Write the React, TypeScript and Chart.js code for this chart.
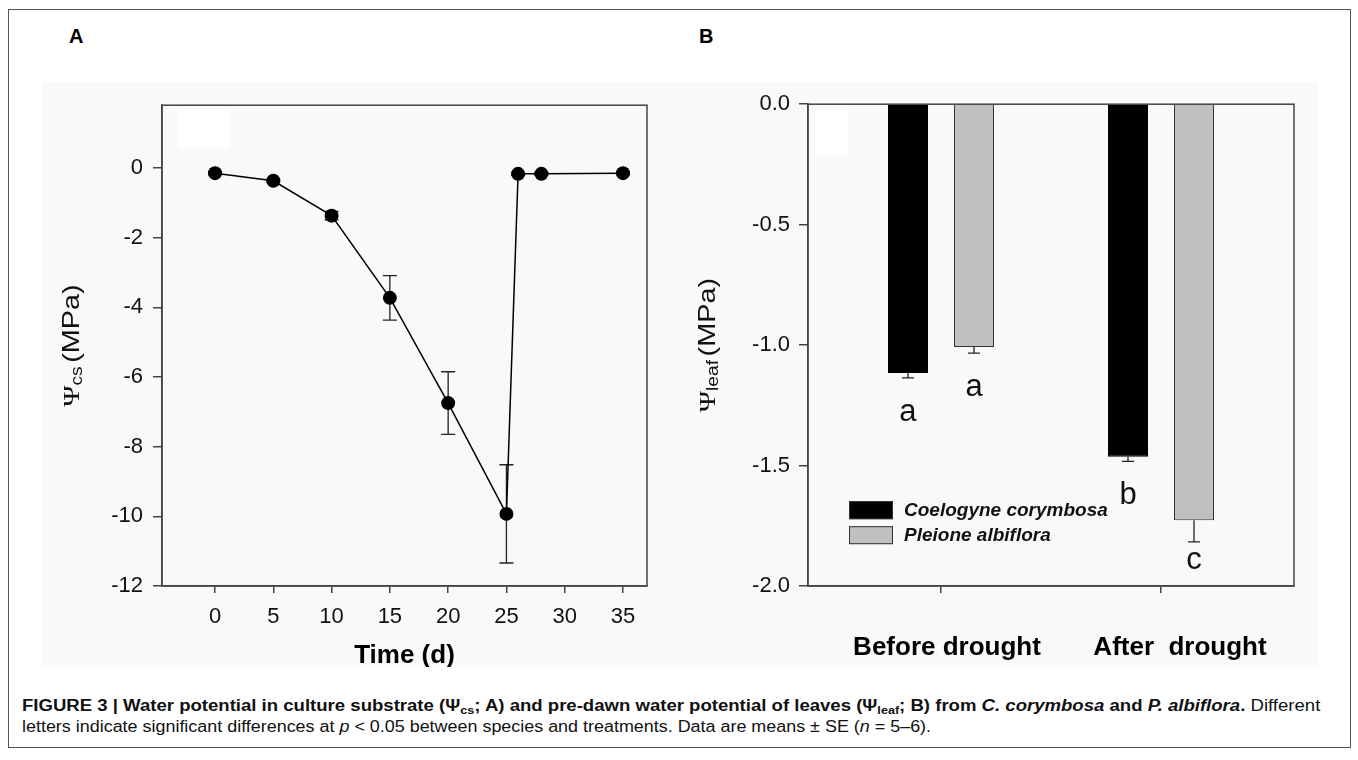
import React, { useEffect, useRef } from 'react';
import { Chart, registerables } from 'chart.js';

Chart.register(...registerables);

// ---------- Panel A data ----------
const days = [0, 5, 10, 15, 20, 25, 26, 28, 35];
const psiCs = [-0.15, -0.37, -1.37, -3.73, -6.75, -9.93, -0.17, -0.17, -0.15];
const psiCsSE = [0.04, 0.04, 0.12, 0.64, 0.9, 1.41, 0.04, 0.04, 0.04];
const xTicksA = [0, 5, 10, 15, 20, 25, 30, 35];
const yTicksA = [0, -2, -4, -6, -8, -10, -12];

// ---------- Panel B data ----------
const categories = ['Before drought', 'After  drought'];
const coelogyne = [-1.116, -1.463];
const coelogyneSE = [0.02, 0.02];
const coelogyneLetters = ['a', 'b'];
const pleione = [-1.008, -1.727];
const pleioneSE = [0.025, 0.09];
const pleioneLetters = ['a', 'c'];
const yTicksB = [0, -0.5, -1.0, -1.5, -2.0];

const FONT = '"Liberation Sans", Arial, Helvetica, sans-serif';
const SERIF = '"Liberation Serif", "Times New Roman", serif';
const AXIS = '#444';

function drawPsiLabel(ctx: CanvasRenderingContext2D, cx: number, cy: number, sub: string) {
  ctx.save();
  ctx.translate(cx, cy);
  ctx.rotate(-Math.PI / 2);
  ctx.scale(1.2, 1);
  const psiF = `24px ${SERIF}`;
  const subF = `16px ${FONT}`;
  const mainF = `24px ${FONT}`;
  ctx.font = psiF;
  const w1 = ctx.measureText('Ψ').width;
  ctx.font = subF;
  const w2 = ctx.measureText(sub).width + 3;
  ctx.font = mainF;
  const w3 = ctx.measureText('(MPa)').width;
  let x = -(w1 + w2 + w3) / 2;
  const base = 8.5;
  ctx.fillStyle = '#111';
  ctx.textBaseline = 'alphabetic';
  ctx.textAlign = 'left';
  ctx.font = psiF;
  ctx.fillText('Ψ', x, base);
  x += w1;
  ctx.font = subF;
  ctx.fillText(sub, x, base + 3);
  x += w2;
  ctx.font = mainF;
  ctx.fillText('(MPa)', x, base);
  ctx.restore();
}

const panelAPlugin = {
  id: 'panelA',
  beforeDatasetsDraw(chart: any) {
    const { ctx, chartArea } = chart;
    const { left, top, right, bottom } = chartArea;
    ctx.save();
    ctx.strokeStyle = AXIS;
    ctx.lineWidth = 1.5;
    ctx.strokeRect(left, top, right - left, bottom - top);
    // error bars
    const xs = chart.scales.x;
    const ys = chart.scales.y;
    ctx.strokeStyle = '#222';
    ctx.lineWidth = 1.3;
    days.forEach((d, i) => {
      const x = xs.getPixelForValue(d);
      const y1 = ys.getPixelForValue(psiCs[i] + psiCsSE[i]);
      const y2 = ys.getPixelForValue(psiCs[i] - psiCsSE[i]);
      ctx.beginPath();
      ctx.moveTo(x, y1);
      ctx.lineTo(x, y2);
      ctx.moveTo(x - 7, y1);
      ctx.lineTo(x + 7, y1);
      ctx.moveTo(x - 7, y2);
      ctx.lineTo(x + 7, y2);
      ctx.stroke();
    });
    ctx.restore();
  },
  afterDraw(chart: any) {
    const { ctx, chartArea } = chart;
    drawPsiLabel(ctx, chartArea.left - 92, (chartArea.top + chartArea.bottom) / 2, 'cs');
  },
};

const panelBPlugin = {
  id: 'panelB',
  beforeDatasetsDraw(chart: any) {
    const { ctx, chartArea } = chart;
    const { left, top, right, bottom } = chartArea;
    ctx.save();
    ctx.strokeStyle = AXIS;
    ctx.lineWidth = 1.5;
    ctx.strokeRect(left, top, right - left, bottom - top);
    ctx.restore();
  },
  afterDatasetsDraw(chart: any) {
    const { ctx, chartArea } = chart;
    const ys = chart.scales.y;
    const xs = chart.scales.x;
    const sets = [
      { v: coelogyne, se: coelogyneSE, letters: coelogyneLetters },
      { v: pleione, se: pleioneSE, letters: pleioneLetters },
    ];
    ctx.save();
    sets.forEach((s, di) => {
      const meta = chart.getDatasetMeta(di);
      s.v.forEach((val, j) => {
        const x = meta.data[j].x;
        const y1 = ys.getPixelForValue(val);
        const y2 = ys.getPixelForValue(val - s.se[j]);
        ctx.strokeStyle = '#222';
        ctx.lineWidth = 1.3;
        ctx.beginPath();
        ctx.moveTo(x, y1);
        ctx.lineTo(x, y2);
        ctx.moveTo(x - 6, y2);
        ctx.lineTo(x + 6, y2);
        ctx.stroke();
        // significance letter
        const base = Math.min(y2 + 43, chartArea.bottom - 17);
        ctx.font = `31px ${FONT}`;
        ctx.fillStyle = '#111';
        ctx.textAlign = 'center';
        ctx.textBaseline = 'alphabetic';
        ctx.fillText(s.letters[j], x, base);
      });
    });
    // legend
    const lx = chartArea.left + 41;
    const ly = chartArea.top + 397;
    chart.data.datasets.forEach((ds: any, i: number) => {
      const y = ly + i * 25;
      ctx.fillStyle = ds.backgroundColor;
      ctx.fillRect(lx, y, 44, 18);
      ctx.strokeStyle = '#333';
      ctx.lineWidth = 1;
      ctx.strokeRect(lx + 0.5, y + 0.5, 43, 17);
      ctx.font = `italic bold 19px ${FONT}`;
      ctx.fillStyle = '#111';
      ctx.textAlign = 'left';
      ctx.textBaseline = 'middle';
      ctx.fillText(ds.label, lx + 55, y + 10);
    });
    // category labels
    const nudges = [6, 19];
    ctx.font = `bold 26px ${FONT}`;
    ctx.fillStyle = '#000';
    ctx.textAlign = 'center';
    ctx.textBaseline = 'middle';
    categories.forEach((c, i) => {
      ctx.fillText(c, xs.getPixelForValue(i + 1) + nudges[i], chartArea.bottom + 62);
    });
    ctx.restore();
  },
  afterDraw(chart: any) {
    const { ctx, chartArea } = chart;
    drawPsiLabel(ctx, chartArea.left - 102, (chartArea.top + chartArea.bottom) / 2, 'leaf');
  },
};

export default function App() {
  const refA = useRef<HTMLCanvasElement>(null);
  const refB = useRef<HTMLCanvasElement>(null);

  useEffect(() => {
    const chartA = new Chart(refA.current as HTMLCanvasElement, {
      type: 'line',
      data: {
        datasets: [
          {
            data: days.map((d, i) => ({ x: d, y: psiCs[i] })),
            borderColor: '#000',
            borderWidth: 1.5,
            pointRadius: 7,
            pointBackgroundColor: '#000',
            pointBorderColor: '#000',
            pointBorderWidth: 0,
            tension: 0,
            fill: false,
          },
        ],
      },
      options: {
        animation: false,
        responsive: false,
        layout: { padding: { top: 20, right: 33, left: 0, bottom: 0 } },
        plugins: { legend: { display: false }, tooltip: { enabled: false } },
        scales: {
          x: {
            type: 'linear',
            min: -4.55,
            max: 37.06,
            afterBuildTicks: (s: any) => {
              s.ticks = xTicksA.map((v) => ({ value: v }));
            },
            afterFit: (s: any) => {
              s.height = 81;
            },
            grid: { drawOnChartArea: false, tickLength: 7, color: AXIS, lineWidth: 1.5 },
            border: { color: AXIS, width: 1.5 },
            ticks: {
              padding: 11,
              color: '#111',
              maxRotation: 0,
              autoSkip: false,
              font: { size: 22, family: FONT },
            },
            title: {
              display: true,
              text: 'Time (d)',
              color: '#000',
              font: { size: 26, weight: 'bold', family: FONT, lineHeight: 1 },
              padding: { top: 0, bottom: -2 },
            },
          },
          y: {
            type: 'linear',
            min: -12,
            max: 1.8,
            afterBuildTicks: (s: any) => {
              s.ticks = yTicksA.map((v) => ({ value: v }));
            },
            afterFit: (s: any) => {
              s.width = 120;
            },
            grid: { drawOnChartArea: false, tickLength: 9, color: AXIS, lineWidth: 1.5 },
            border: { color: AXIS, width: 1.5 },
            ticks: { padding: 10, color: '#111', font: { size: 22, family: FONT } },
          },
        },
      } as any,
      plugins: [panelAPlugin],
    });

    const chartB = new Chart(refB.current as HTMLCanvasElement, {
      type: 'bar',
      data: {
        datasets: [
          {
            label: 'Coelogyne corymbosa',
            data: coelogyne.map((v, i) => ({ x: i + 1, y: v })),
            backgroundColor: '#000',
            borderColor: '#000',
            borderWidth: 1,
          },
          {
            label: 'Pleione albiflora',
            data: pleione.map((v, i) => ({ x: i + 1, y: v })),
            backgroundColor: '#c0c0c0',
            borderColor: '#333',
            borderWidth: 1,
          },
        ],
      },
      options: {
        animation: false,
        responsive: false,
        categoryPercentage: 0.6,
        barPercentage: 0.606,
        layout: { padding: { top: 20, right: 24, left: 0, bottom: 0 } },
        plugins: { legend: { display: false }, tooltip: { enabled: false } },
        scales: {
          x: {
            type: 'linear',
            min: 0.3955,
            max: 2.6045,
            offset: false,
            afterBuildTicks: (s: any) => {
              s.ticks = categories.map((_, i) => ({ value: i + 1 }));
            },
            afterFit: (s: any) => {
              s.height = 81;
            },
            grid: { drawOnChartArea: false, offset: false, tickLength: 7, color: AXIS, lineWidth: 1.5 },
            border: { color: AXIS, width: 1.5 },
            ticks: { display: false },
          },
          y: {
            type: 'linear',
            min: -2,
            max: 0,
            afterBuildTicks: (s: any) => {
              s.ticks = yTicksB.map((v) => ({ value: v }));
            },
            afterFit: (s: any) => {
              s.width = 128;
            },
            grid: { drawOnChartArea: false, tickLength: 9, color: AXIS, lineWidth: 1.5 },
            border: { color: AXIS, width: 1.5 },
            ticks: {
              padding: 9,
              color: '#111',
              font: { size: 22, family: FONT },
              callback: (v: any) => Number(v).toFixed(1),
            },
          },
        },
      } as any,
      plugins: [panelBPlugin],
    });

    return () => {
      chartA.destroy();
      chartB.destroy();
    };
  }, []);

  const subStyle: React.CSSProperties = { fontSize: '0.68em', verticalAlign: '-0.25em', lineHeight: 0 };
  const lineStyle = (sx: number): React.CSSProperties => ({
    height: 21,
    transform: `scaleX(${sx})`,
    transformOrigin: 'left center',
  });

  return (
    <div
      style={{
        position: 'absolute',
        left: 0,
        top: 0,
        width: 1358,
        height: 760,
        background: '#fff',
        overflow: 'hidden',
        fontFamily: FONT,
      }}
    >
      <div
        style={{
          position: 'absolute',
          left: 8,
          top: 9,
          width: 1343,
          height: 739,
          boxSizing: 'border-box',
          border: '1px solid #555',
        }}
      />
      <div style={{ position: 'absolute', left: 42, top: 82, width: 1276, height: 585, background: '#f9f9f9' }} />
      <div style={{ position: 'absolute', left: 178, top: 110, width: 52, height: 38, background: '#fff' }} />
      <div style={{ position: 'absolute', left: 816, top: 108, width: 32, height: 47, background: '#fff' }} />
      <div style={{ position: 'absolute', left: 69, top: 26, fontSize: 20, fontWeight: 'bold', lineHeight: '20px' }}>A</div>
      <div style={{ position: 'absolute', left: 699, top: 26, fontSize: 20, fontWeight: 'bold', lineHeight: '20px' }}>B</div>
      <canvas
        ref={refA}
        width={638}
        height={585}
        style={{ position: 'absolute', left: 42, top: 82, width: 638, height: 585 }}
      />
      <canvas
        ref={refB}
        width={638}
        height={585}
        style={{ position: 'absolute', left: 680, top: 82, width: 638, height: 585 }}
      />
      <div
        style={{
          position: 'absolute',
          left: 22,
          top: 695,
          fontSize: 16,
          lineHeight: '21px',
          whiteSpace: 'nowrap',
          color: '#111',
        }}
      >
        <div style={lineStyle(1.16)}>
          <b>
            FIGURE 3 | Water potential in culture substrate (Ψ<sub style={subStyle}>cs</sub>; A) and pre-dawn water
            potential of leaves (Ψ<sub style={subStyle}>leaf</sub>; B) from <i>C. corymbosa</i> and{' '}
            <i>P. albiflora</i>.
          </b>{' '}
          Different
        </div>
        <div style={lineStyle(1.12)}>
          letters indicate significant differences at <i>p</i> &lt; 0.05 between species and treatments. Data are means
          ± SE (<i>n</i> = 5–6).
        </div>
      </div>
    </div>
  );
}
